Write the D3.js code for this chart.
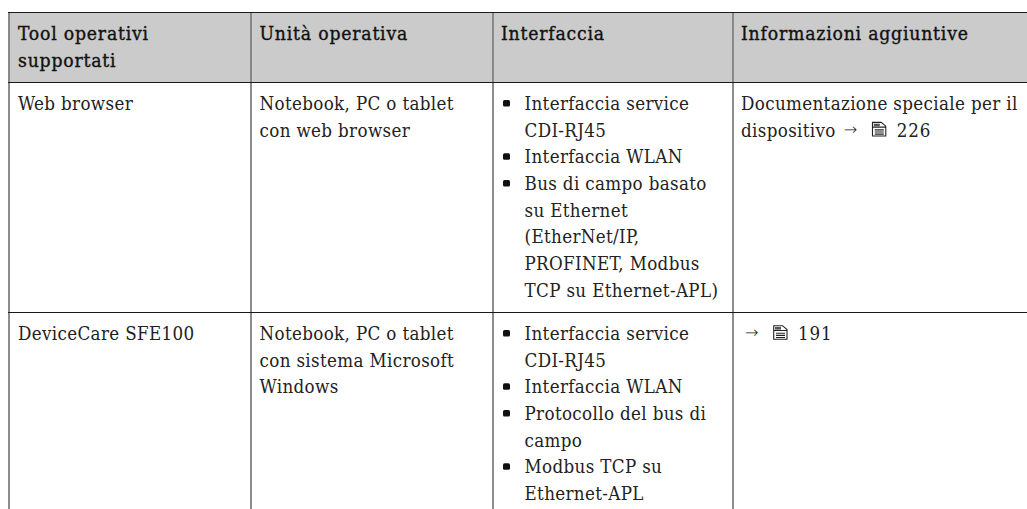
<!DOCTYPE html>
<html><head><meta charset="utf-8">
<style>html,body{margin:0;padding:0;background:#fff}svg{display:block}</style>
<script src="https://cdn.jsdelivr.net/npm/d3@7"></script>
</head><body><svg id="c" width="1027" height="509"></svg>
<script>
const headers = [["Tool operativi","supportati"],["Unità operativa"],["Interfaccia"],["Informazioni aggiuntive"]];
const row1 = [
 [{t:"Web browser"}],
 [{t:"Notebook, PC o tablet"},{t:"con web browser"}],
 [{t:"Interfaccia service",b:1},{t:"CDI-RJ45"},{t:"Interfaccia WLAN",b:1},{t:"Bus di campo basato",b:1},{t:"su Ethernet"},{t:"(EtherNet/IP,"},{t:"PROFINET, Modbus"},{t:"TCP su Ethernet-APL)"}],
 [{t:"Documentazione speciale per il"},{t:"dispositivo",ref:"226"}]
];
const row2 = [
 [{t:"DeviceCare SFE100"}],
 [{t:"Notebook, PC o tablet"},{t:"con sistema Microsoft"},{t:"Windows"}],
 [{t:"Interfaccia service",b:1},{t:"CDI-RJ45"},{t:"Interfaccia WLAN",b:1},{t:"Protocollo del bus di",b:1},{t:"campo"},{t:"Modbus TCP su",b:1},{t:"Ethernet-APL"}],
 [{t:"",ref:"191"}]
];
const colEdges = [9,251,493,733,1027];
const textX = [18,259.5,524.5,741];
const headX = [18,259.5,501,741];
const rowLines = [12.5,82.5,312.5];
const svg = d3.select("#c");
const font = "'DejaVu Serif Condensed','DejaVu Serif',serif";
const size = 18.6;
svg.append("rect").attr("x",colEdges[0]).attr("y",rowLines[0]).attr("width",1027-colEdges[0]).attr("height",rowLines[1]-rowLines[0]).attr("fill","#cbcbcb");
svg.selectAll("line.v").data(colEdges.slice(0,4)).join("line").attr("class","v")
 .attr("x1",d=>d).attr("x2",d=>d).attr("y1",rowLines[0]).attr("y2",509)
 .attr("stroke","#808080").attr("stroke-width",1.8);
svg.selectAll("line.h").data(rowLines).join("line").attr("class","h")
 .attr("x1",colEdges[0]-1).attr("x2",1027).attr("y1",d=>d).attr("y2",d=>d)
 .attr("stroke","#1a1a1a").attr("stroke-width",1.2);
function draw(lines,xs,col,y0,lh,color,head){
 lines.forEach((item,i)=>{
  const y = y0+i*lh, x = xs[col];
  const tx = svg.append("text").attr("x",x).attr("y",y).attr("font-family",font).attr("font-size",head?19.2:size)
   .attr("letter-spacing",head?0.8:0.35).attr("fill",color).text(item.t);
  if(head) tx.attr("stroke",color).attr("stroke-width",0.35);
  if(item.b) svg.append("rect").attr("x",x-21.5).attr("y",y-10).attr("width",7).attr("height",6.5).attr("rx",1.6).attr("fill","#111");
  if(item.ref){
   const w = item.t?tx.node().getComputedTextLength():0;
   const ax = x+w+(item.t?8:4);
   svg.append("text").attr("x",ax).attr("y",y-2).attr("font-family","'DejaVu Sans'").attr("font-weight",200).attr("font-size",16).attr("fill",color).text("→");
   const ix = ax+28;
   const g = svg.append("g").attr("transform",`translate(${ix},${y-15})`);
   g.append("path").attr("d","M.7 .7H9.5L14 4.5V14.3H.7Z M.7 5.5H14 M3 8.2H12 M3 10.4H12 M3 12.5H12").attr("fill","none").attr("stroke","#222").attr("stroke-width",1.1);
   g.append("rect").attr("x",2).attr("y",2).attr("width",6).attr("height",2.6).attr("fill","#555");
   svg.append("text").attr("x",ix+25).attr("y",y).attr("font-family",font).attr("font-size",size).attr("letter-spacing",0.8).attr("fill",color).text(item.ref);
  }
 });
}
headers.forEach((h,c)=>draw(h.map(t=>({t})),headX,c,40,26.7,"#111",true));
row1.forEach((r,c)=>draw(r,textX,c,110,26.67,"#222",false));
row2.forEach((r,c)=>draw(r,textX,c,340,26.67,"#222",false));
</script></body></html>
